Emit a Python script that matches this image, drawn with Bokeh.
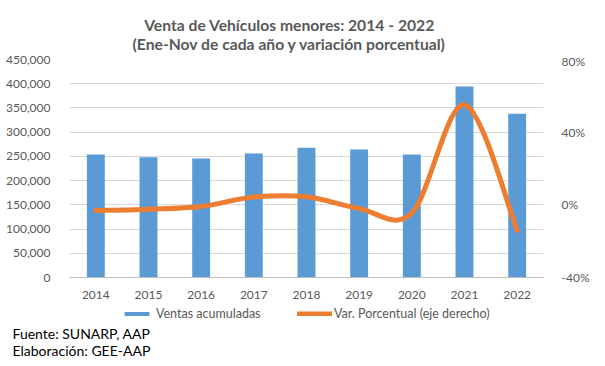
import numpy as np
from bokeh.plotting import figure
from bokeh.layouts import column
from bokeh.models import (ColumnDataSource, Range1d, LinearAxis, FixedTicker,
                          NumeralTickFormatter, PrintfTickFormatter, Legend,
                          LegendItem, Label)
from bokeh.embed import file_html
from bokeh.resources import INLINE

years = [2014, 2015, 2016, 2017, 2018, 2019, 2020, 2021, 2022]
ventas = [254000, 248000, 245500, 256000, 268000, 264000, 254000, 394500, 338000]
var_pct = [-3.1, -2.4, -0.9, 4.3, 4.4, -2.0, -4.5, 55.0, -14.0]
left_ticks = [0, 50000, 100000, 150000, 200000, 250000, 300000, 350000, 400000, 450000]
right_ticks = [-40, 0, 40, 80]
title_lines = ["Venta de Vehículos menores: 2014 - 2022",
               "(Ene-Nov de cada año y variación porcentual)"]
legend_labels = ["Ventas acumuladas", "Var. Porcentual (eje derecho)"]
footer_lines = ["Fuente: SUNARP, AAP", "Elaboración: GEE-AAP"]

FONT = "Lato"
GREY = "#595959"
BLUE = "#5B9BD5"
ORANGE = "#ED7D31"
W = 589

src = ColumnDataSource(dict(year=years, ventas=ventas, pct=var_pct))


def blank(h):
    f = figure(width=W, height=h, output_backend="svg", toolbar_location=None,
               x_range=Range1d(0, W), y_range=Range1d(h, 0),
               x_axis_type=None, y_axis_type=None, title=None,
               min_border=0, min_border_left=0, min_border_right=0,
               min_border_top=0, min_border_bottom=0, frame_align=False)
    f.outline_line_color = None
    f.xgrid.visible = False
    f.ygrid.visible = False
    return f


# ---------------- title strip ----------------
TH = 53
pt = blank(TH)
for txt, yy in zip(title_lines, [24, 43]):
    pt.add_layout(Label(x=289, y=yy, text=txt, text_align="center",
                        text_baseline="middle", text_font=FONT,
                        text_font_style="bold", text_font_size="15.7px",
                        text_color=GREY))

# ---------------- main chart ----------------
p = figure(frame_width=474, frame_height=218, output_backend="svg",
           toolbar_location=None, frame_align=False,
           x_range=Range1d(2013.5, 2022.5), y_range=Range1d(0, 450000),
           min_border_left=69, min_border_right=46, min_border_top=6,
           min_border_bottom=25, title=None)
p.outline_line_color = None
p.extra_y_ranges = {"pct": Range1d(-40, 80)}

bars = p.vbar(x="year", top="ventas", width=0.34, source=src,
              fill_color=BLUE, line_color=None)

# smoothed line (Excel-like) through the data points
x = np.array(years, dtype=float)
y = np.array(var_pct, dtype=float)
xp = np.concatenate([[x[0]], x, [x[-1]]])
yp = np.concatenate([[y[0]], y, [y[-1]]])
n = len(x)
bz = dict(x0=x[:-1], y0=y[:-1], x1=x[1:], y1=y[1:],
          cx0=x[:-1] + (xp[2:n + 1] - xp[0:n - 1]) / 6.0,
          cy0=y[:-1] + (yp[2:n + 1] - yp[0:n - 1]) / 6.0,
          cx1=x[1:] - (xp[3:n + 2] - xp[1:n]) / 6.0,
          cy1=y[1:] - (yp[3:n + 2] - yp[1:n]) / 6.0)
curve = p.bezier(x0="x0", y0="y0", x1="x1", y1="y1", cx0="cx0", cy0="cy0",
                 cx1="cx1", cy1="cy1", source=ColumnDataSource(bz),
                 line_color=ORANGE, line_width=5, line_cap="round",
                 y_range_name="pct")

p.xaxis.ticker = FixedTicker(ticks=years)
p.xaxis.formatter = PrintfTickFormatter(format="%d")
p.yaxis.ticker = FixedTicker(ticks=left_ticks)
p.yaxis.formatter = NumeralTickFormatter(format="0,0")
ax_r = LinearAxis(y_range_name="pct", ticker=FixedTicker(ticks=right_ticks),
                  formatter=PrintfTickFormatter(format="%d%%"))
p.add_layout(ax_r, "right")
for ax in [p.xaxis[0], p.yaxis[0], ax_r]:
    ax.major_tick_line_color = None
    ax.minor_tick_line_color = None
    ax.major_label_text_font = FONT
    ax.major_label_text_font_size = "12px"
    ax.major_label_text_color = GREY
p.yaxis[0].axis_line_color = None
ax_r.axis_line_color = None
p.xaxis[0].axis_line_color = "#BFBFBF"
p.yaxis[0].major_label_standoff = 13
ax_r.major_label_standoff = 12
p.xaxis[0].major_label_standoff = 7

p.xgrid.grid_line_color = None
p.ygrid.ticker = FixedTicker(ticks=left_ticks)
p.ygrid.grid_line_color = "#D9D9D9"

# ---------------- legend + footer strip ----------------
BH = 60
pb = blank(BH)
# legend proxies: same data, lying outside this strip's visible ranges
proxy_bar = pb.vbar(x="year", top="ventas", width=0.34, source=src,
                    fill_color=BLUE, line_color=None)
proxy_line = pb.line(x="year", y="pct", source=src,
                     line_color=ORANGE, line_width=5, line_cap="round")
common = dict(orientation="horizontal", border_line_color=None,
              background_fill_alpha=0, padding=0, margin=0,
              label_text_font=FONT, label_text_font_size="12.5px",
              label_text_color=GREY, label_height=16, glyph_height=5)
leg1 = Legend(items=[LegendItem(label=legend_labels[0], renderers=[proxy_bar])],
              location=(121, 41), glyph_width=31, label_standoff=4, **common)
leg2 = Legend(items=[LegendItem(label=legend_labels[1], renderers=[proxy_line])],
              location=(297, 41), glyph_width=35, label_standoff=2, **common)
pb.add_layout(leg1)
pb.add_layout(leg2)
for txt, yy in zip(footer_lines, [31, 48]):
    pb.add_layout(Label(x=12, y=yy, text=txt, text_align="left",
                        text_baseline="middle", text_font=FONT,
                        text_font_size="14px", text_color="#000000"))

layout = column(pt, p, pb, spacing=0)
open("out.html", "w").write(file_html(layout, INLINE))
